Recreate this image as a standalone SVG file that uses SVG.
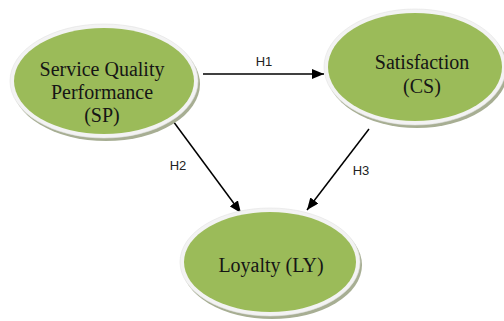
<svg xmlns="http://www.w3.org/2000/svg" width="504" height="321" viewBox="0 0 504 321">
<defs>
<style>
.shadow{fill:#a7ae93;}
.rim{fill:#f3f3f3;stroke:#e2e2e2;stroke-width:0.6;}
.fill{fill:#9bbb59;}
.lbl{font-family:"Liberation Serif",serif;font-size:20px;fill:#151515;text-anchor:middle;}
.h{font-family:"Liberation Sans",Arial,sans-serif;font-size:13px;fill:#222;text-anchor:middle;}
.conn{stroke:#000;stroke-width:1.5;fill:none;marker-end:url(#ah);}
</style>
<marker id="ah" viewBox="0 0 12 10" refX="12" refY="5" markerWidth="12" markerHeight="10" markerUnits="userSpaceOnUse" orient="auto">
<path d="M0,0 L12,5 L0,10 z" fill="#000"/>
</marker>
</defs>
<rect width="504" height="321" fill="#fff"/>
<g id="connectors">
<line class="conn" x1="203" y1="74" x2="324" y2="74"/>
<line class="conn" x1="173" y1="121" x2="241" y2="213"/>
<line class="conn" x1="369" y1="129" x2="307" y2="210"/>
<text class="h" x="264" y="66">H1</text>
<text class="h" x="178" y="170">H2</text>
<text class="h" x="361" y="175">H3</text>
</g>
<g id="SP">
<ellipse class="shadow" cx="106" cy="84" rx="94" ry="57"/>
<ellipse class="rim" cx="104" cy="81" rx="94" ry="57"/>
<ellipse class="fill" cx="104" cy="81" rx="90" ry="53"/>
<text class="lbl" x="102" y="76">Service Quality</text>
<text class="lbl" x="102" y="99">Performance</text>
<text class="lbl" x="102" y="122">(SP)</text>
</g>
<g id="CS">
<ellipse class="shadow" cx="417" cy="70" rx="91" ry="58"/>
<ellipse class="rim" cx="415" cy="67" rx="91" ry="58"/>
<ellipse class="fill" cx="415" cy="67" rx="87" ry="54"/>
<text class="lbl" x="422" y="69">Satisfaction</text>
<text class="lbl" x="422" y="93">(CS)</text>
</g>
<g id="LY">
<ellipse class="shadow" cx="272" cy="265" rx="90" ry="54"/>
<ellipse class="rim" cx="270" cy="262" rx="90" ry="54"/>
<ellipse class="fill" cx="270" cy="262" rx="86" ry="50"/>
<text class="lbl" x="271" y="272">Loyalty (LY)</text>
</g>
</svg>
